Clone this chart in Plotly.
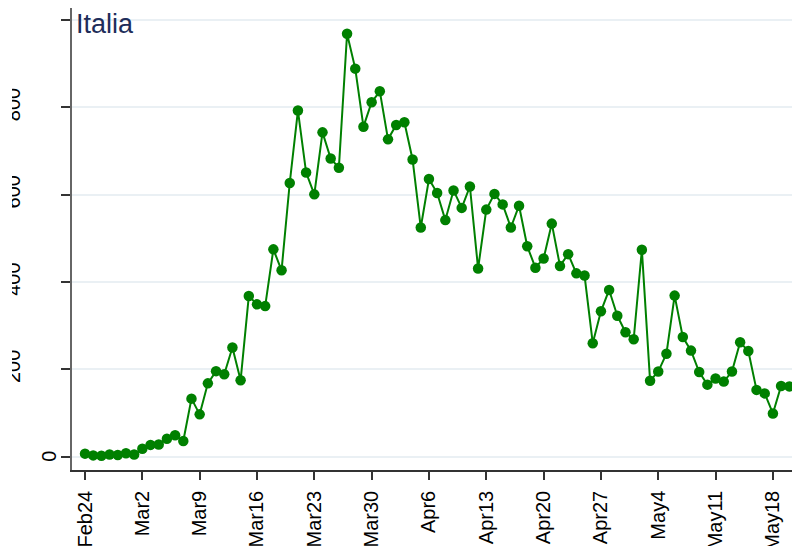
import pandas as pd
import plotly.graph_objects as go

start_date = "2020-02-24"
daily_deaths = [
    7, 3, 2, 5, 4, 8,                                   # Feb 24-29
    5, 18, 27, 28, 41, 49, 36, 133, 97, 168, 196, 189, 250, 175, 368,
    349, 345, 475, 427, 627, 793, 651, 601, 743, 683, 662, 969, 889,
    756, 812, 837,                                      # Mar
    727, 760, 766, 681, 525, 636, 604, 542, 610, 570, 619, 431, 566,
    602, 578, 525, 575, 482, 433, 454, 534, 437, 464, 420, 415, 260,
    333, 382, 323, 285,                                 # Apr
    269, 474, 174, 195, 236, 369, 274, 243, 194, 165, 179, 172, 195,
    262, 242, 153, 145, 99, 162, 161,                   # May 1-20
]
dates = pd.date_range(start_date, periods=len(daily_deaths), freq="D")

x_tick_dates = pd.date_range("2020-02-24", "2020-05-18", freq="7D")
x_tick_labels = ["Feb24", "Mar2", "Mar9", "Mar16", "Mar23", "Mar30", "Apr6",
                 "Apr13", "Apr20", "Apr27", "May4", "May11", "May18"]
y_tick_vals = [0, 200, 400, 600, 800, 1000]
y_tick_labels = ["", "200", "400", "600", "800", ""]
title_text = "Italia"

GREEN = "#008000"
base = pd.Timestamp(start_date)
x_range = [base - pd.Timedelta(days=1.59), base + pd.Timedelta(days=87.31)]

# the page body adds an 8px margin, so the figure is sized/positioned for it
L, T, PW, PH = 64, 0, 728, 462
FW, FH = 792, 538

fig = go.Figure()
fig.add_trace(go.Scatter(
    x=dates, y=daily_deaths, mode="lines+markers",
    line=dict(color=GREEN, width=2),
    marker=dict(color=GREEN, size=10.5),
    showlegend=False,
))

fig.update_layout(
    width=FW, height=FH,
    margin=dict(l=L, r=FW - L - PW, t=T, b=FH - T - PH, autoexpand=False),
    paper_bgcolor="white", plot_bgcolor="white",
    font=dict(family="Liberation Sans, Arial, sans-serif", size=20, color="black"),
)
fig.update_xaxes(
    range=x_range, tickvals=x_tick_dates, ticktext=x_tick_labels,
    tickangle=-90, showgrid=False, zeroline=False, automargin=False,
    showline=True, linecolor="#333333", linewidth=1.5,
    ticks="outside", ticklen=8, tickcolor="#333333", tickwidth=1.5,
    ticklabelstandoff=3,
    tickfont=dict(size=20, color="black"),
)
fig.update_yaxes(
    range=[-30.5, 1027.9], tickvals=y_tick_vals, ticktext=y_tick_labels,
    tickangle=-90, showgrid=True, gridcolor="#eaf0f4", gridwidth=1.5,
    zeroline=False, showline=True, linecolor="#666666", linewidth=1.5,
    ticks="outside", ticklen=9, tickcolor="#333333", tickwidth=1.5,
    ticklabelstandoff=33, automargin=False,
    tickfont=dict(size=20, color="black"),
)

# "0" label sits closer to the axis than the others
fig.add_annotation(
    x=0, xref="paper", y=0, yref="y", text="0", showarrow=False,
    textangle=-90, xanchor="center", yanchor="middle", xshift=-23,
    font=dict(size=20, color="black"),
)
# clip the left edge of the rotated y labels
fig.add_shape(
    type="rect", xref="paper", yref="paper",
    x0=-0.2, x1=(4 - L) / PW, y0=0, y1=1,
    fillcolor="white", line=dict(width=0), layer="above",
)

fig.add_annotation(
    x=0, xref="paper", y=1, yref="paper", text=title_text, showarrow=False,
    xanchor="left", yanchor="top", xshift=2, yshift=1,
    font=dict(size=27, color="#1e2d5a"),
)

fig.write_html("out.html")
